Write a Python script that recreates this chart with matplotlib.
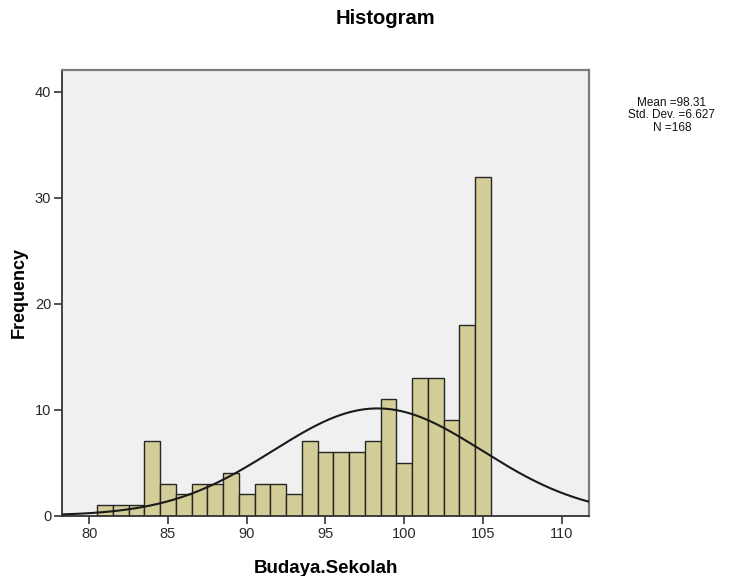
import numpy as np
import matplotlib
matplotlib.use("Agg")
import matplotlib.pyplot as plt

plt.rcParams["font.family"] = ["Liberation Sans", "DejaVu Sans"]

# score values (bin centres, width 1) and their frequencies
scores = [81, 82, 83, 84, 85, 86, 87, 88, 89, 90, 91, 92, 93,
          94, 95, 96, 97, 98, 99, 100, 101, 102, 103, 104, 105]
counts = [1, 1, 1, 7, 3, 2, 3, 3, 4, 2, 3, 3, 2,
          7, 6, 6, 6, 7, 11, 5, 13, 13, 9, 18, 32]
mean = 98.31
std_dev = 6.627
n_total = 168
x_ticks = [80, 85, 90, 95, 100, 105, 110]
y_ticks = [0, 10, 20, 30, 40]

fig = plt.figure(figsize=(7.35, 5.76), dpi=100)
ax = fig.add_axes([0.0848, 0.105, 0.716, 0.7735])
ax.set_facecolor("#F0F0F0")

ax.bar(scores, counts, width=1.0, color="#D3CE97", edgecolor="#262626",
       linewidth=1.0, zorder=2)

xlim = (78.3, 111.7)
xs = np.linspace(xlim[0], xlim[1], 400)
pdf = np.exp(-0.5 * ((xs - mean) / std_dev) ** 2) / (std_dev * np.sqrt(2 * np.pi))
ax.plot(xs, n_total * 1.0 * pdf, color="#1a1a1a", lw=1.5, zorder=3)

ax.set_xlim(*xlim)
ax.set_ylim(0, 42.07)
ax.set_xticks(x_ticks)
ax.set_yticks(y_ticks)
ax.tick_params(direction="out", length=6, width=1.2, color="#333333",
               labelsize=10.5, labelcolor="#2a2a2a", pad=2)

for side in ("left", "bottom"):
    ax.spines[side].set_color("#333333")
    ax.spines[side].set_linewidth(1.3)
for side in ("top", "right"):
    ax.spines[side].set_color("#7a7a7a")
    ax.spines[side].set_linewidth(1.6)

ax.set_xlabel("Budaya.Sekolah", fontsize=13.5, fontweight="bold", labelpad=14)
ax.set_ylabel("Frequency", fontsize=13, fontweight="bold", labelpad=5)
fig.text(0.524, 0.968, "Histogram", ha="center", va="center",
         fontsize=14.5, fontweight="bold")

fig.text(0.914, 0.80,
         f"Mean ={mean:.2f}\nStd. Dev. ={std_dev:.3f}\nN ={n_total}",
         ha="center", va="center", fontsize=8.5, linespacing=1.05,
         color="#111111")

fig.savefig("out.png", dpi=100)
